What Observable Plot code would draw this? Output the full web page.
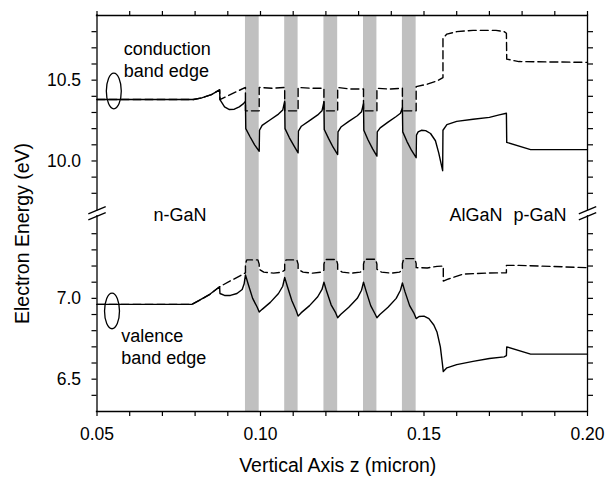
<!DOCTYPE html>
<html><head><meta charset="utf-8">
<script src="https://cdn.jsdelivr.net/npm/d3@7"></script>
<script src="https://cdn.jsdelivr.net/npm/@observablehq/plot@0.6"></script>
<style>body{margin:0;background:#fff;}</style>
</head><body><div id="chart"></div>
<script>
// ---------- data (z in micron, energy in eV) ----------
const wells = [[0.0954,0.0996],[0.1074,0.1115],[0.1194,0.1236],[0.1315,0.1356],[0.1434,0.1476]];

const cbSolid = [
 [0.0500,10.380],[0.0795,10.380],[0.0820,10.390],[0.0850,10.410],[0.0875,10.440],[0.0876,10.380],
 [0.0890,10.335],[0.0905,10.318],[0.0920,10.320],[0.0935,10.335],[0.0948,10.355],[0.0954,10.370],
 [0.0955,10.200],[0.0968,10.150],[0.0982,10.100],[0.0996,10.060],[0.0997,10.190],[0.1005,10.220],
 [0.1030,10.255],[0.1055,10.290],[0.1068,10.315],[0.1074,10.370],
 [0.1075,10.200],[0.1088,10.145],[0.1102,10.095],[0.1115,10.050],[0.1116,10.185],[0.1125,10.215],
 [0.1150,10.250],[0.1175,10.285],[0.1188,10.310],[0.1194,10.365],
 [0.1195,10.195],[0.1208,10.140],[0.1222,10.085],[0.1236,10.040],[0.1237,10.180],[0.1246,10.210],
 [0.1270,10.245],[0.1296,10.280],[0.1309,10.305],[0.1315,10.355],
 [0.1316,10.190],[0.1329,10.130],[0.1343,10.075],[0.1356,10.030],[0.1357,10.180],[0.1366,10.205],
 [0.1390,10.240],[0.1415,10.275],[0.1428,10.295],[0.1434,10.330],
 [0.1435,10.180],[0.1448,10.120],[0.1462,10.065],[0.1476,10.020],[0.1477,10.160],[0.1482,10.180],
 [0.1492,10.190],[0.1505,10.188],[0.1520,10.170],[0.1535,10.125],[0.1545,10.050],[0.1557,9.940],
 [0.1558,10.190],[0.1570,10.225],[0.1600,10.245],[0.1650,10.258],[0.1700,10.270],[0.1730,10.285],
 [0.1752,10.295],[0.1753,10.115],[0.1826,10.070],[0.2000,10.070]
];

const cbDashed = [
 [0.0500,10.380],[0.0795,10.380],[0.0820,10.390],[0.0850,10.410],[0.0875,10.440],[0.0876,10.380],
 [0.0954,10.455],[0.0954,10.310],[0.0996,10.310],[0.0996,10.455],[0.1035,10.450],[0.1074,10.455],
 [0.1074,10.310],[0.1115,10.310],[0.1115,10.455],[0.1155,10.450],[0.1194,10.450],
 [0.1194,10.310],[0.1236,10.310],[0.1236,10.455],[0.1275,10.445],[0.1315,10.445],
 [0.1315,10.310],[0.1356,10.310],[0.1356,10.450],[0.1395,10.445],[0.1434,10.450],
 [0.1434,10.310],[0.1476,10.310],[0.1476,10.460],[0.1510,10.475],[0.1540,10.495],[0.1558,10.515],
 [0.1558,10.760],[0.1570,10.785],[0.1600,10.800],[0.1650,10.808],[0.1720,10.808],[0.1745,10.800],
 [0.1752,10.790],[0.1753,10.630],[0.1790,10.615],[0.2000,10.610]
];

const vbSolid = [
 [0.0500,6.963],[0.0790,6.963],[0.0815,6.990],[0.0845,7.025],[0.0875,7.072],[0.0876,7.030],
 [0.0890,7.018],[0.0908,7.018],[0.0928,7.030],[0.0944,7.055],[0.0950,7.090],[0.0954,7.145],
 [0.0962,7.090],[0.0976,7.000],[0.0990,6.945],[0.0996,6.915],[0.1005,6.932],[0.1030,6.975],
 [0.1055,7.030],[0.1068,7.075],[0.1074,7.130],
 [0.1082,7.075],[0.1096,6.985],[0.1109,6.925],[0.1115,6.890],[0.1124,6.910],[0.1150,6.955],
 [0.1175,7.010],[0.1188,7.055],[0.1194,7.100],
 [0.1202,7.045],[0.1216,6.960],[0.1230,6.910],[0.1236,6.880],[0.1245,6.900],[0.1270,6.945],
 [0.1296,7.000],[0.1309,7.050],[0.1315,7.100],
 [0.1323,7.045],[0.1337,6.955],[0.1350,6.905],[0.1356,6.880],[0.1365,6.900],[0.1390,6.945],
 [0.1415,7.000],[0.1428,7.050],[0.1434,7.095],
 [0.1442,7.040],[0.1456,6.955],[0.1470,6.905],[0.1476,6.875],[0.1485,6.888],[0.1500,6.890],
 [0.1515,6.875],[0.1530,6.835],[0.1540,6.790],[0.1550,6.700],[0.1556,6.600],[0.1559,6.547],
 [0.1570,6.570],[0.1600,6.590],[0.1650,6.610],[0.1700,6.628],[0.1745,6.638],[0.1752,6.645],
 [0.1753,6.700],[0.1826,6.655],[0.2000,6.655]
];

const vbDashed = [
 [0.0500,6.963],[0.0790,6.963],[0.0815,6.990],[0.0845,7.025],[0.0875,7.072],[0.0954,7.158],
 [0.0954,7.212],[0.0958,7.238],[0.0992,7.238],[0.0996,7.212],[0.0996,7.180],[0.1010,7.162],
 [0.1040,7.156],[0.1065,7.162],[0.1074,7.175],
 [0.1074,7.212],[0.1078,7.238],[0.1111,7.238],[0.1115,7.212],[0.1115,7.180],[0.1130,7.162],
 [0.1160,7.156],[0.1185,7.162],[0.1194,7.175],
 [0.1194,7.212],[0.1198,7.240],[0.1232,7.240],[0.1236,7.212],[0.1236,7.180],[0.1250,7.162],
 [0.1280,7.156],[0.1305,7.162],[0.1315,7.175],
 [0.1315,7.212],[0.1319,7.242],[0.1352,7.242],[0.1356,7.212],[0.1356,7.180],[0.1370,7.162],
 [0.1400,7.156],[0.1425,7.162],[0.1434,7.178],
 [0.1434,7.215],[0.1438,7.246],[0.1472,7.246],[0.1476,7.215],[0.1476,7.190],[0.1510,7.188],
 [0.1540,7.198],[0.1559,7.200],[0.1559,7.107],[0.1575,7.120],[0.1620,7.150],[0.1700,7.157],
 [0.1752,7.158],[0.1752,7.204],[0.1790,7.204],[0.2000,7.190]
];

const xTicks = [0.05,0.06,0.07,0.08,0.09,0.10,0.11,0.12,0.13,0.14,0.15,0.16,0.17,0.18,0.19,0.20];
const xTickLabels = [0.05,0.10,0.15,0.20];
const yTicksLower = [6.4,6.5,6.6,6.7,6.8,6.9,7.0,7.1,7.2,7.3,7.4];
const yTicksUpper = [9.8,9.9,10.0,10.1,10.2,10.3,10.4,10.5,10.6,10.7,10.8];
const yTickLabels = [6.5,7.0,10.0,10.5];

const notes = [
 {text:"conduction", z:0.0582, e:10.655, upper:true},
 {text:"band edge",  z:0.0582, e:10.521, upper:true},
 {text:"valence",    z:0.0574, e:6.731,  upper:false},
 {text:"band edge",  z:0.0574, e:6.593,  upper:false},
 {text:"n-GaN",      z:0.0673, e:7.479,  upper:false},
 {text:"AlGaN",      z:0.1578, e:7.479,  upper:false},
 {text:"p-GaN",      z:0.1774, e:7.479,  upper:false}
];
const ellipses = [
 {z:0.05514, e:10.433, upper:true},
 {z:0.05459, e:6.922,  upper:false}
];

// ---------- broken-axis mapping ----------
const SHIFT = 2.15;            // upper panel energies are drawn shifted down by this
const Y_MIN = 6.3, Y_MAX = 10.9 - SHIFT;
const BREAK_HI = 7.545, BREAK_LO = 7.508;   // gap in the vertical axis lines
const SLASH_DZ = 0.00266, SLASH_DY = 0.0226;
const X_MIN = 0.05, X_MAX = 0.20;
const up = e => e - SHIFT;

const yTicksDisplay = [...yTicksLower, ...yTicksUpper.map(e => +up(e).toFixed(4))];
const yLabelMap = new Map(yTickLabels.map(e => [+(e > 8.5 ? up(e) : e).toFixed(4), e.toFixed(1)]));
const xLabelSet = new Set(xTickLabels.map(v => v.toFixed(2)));

const ellipseSymbol = {
  draw(ctx, size) {
    const ry = Math.sqrt(size / Math.PI), rx = ry * 0.42, k = 0.5523;
    ctx.moveTo(rx, 0);
    ctx.bezierCurveTo(rx, k*ry, k*rx, ry, 0, ry);
    ctx.bezierCurveTo(-k*rx, ry, -rx, k*ry, -rx, 0);
    ctx.bezierCurveTo(-rx, -k*ry, -k*rx, -ry, 0, -ry);
    ctx.bezierCurveTo(k*rx, -ry, rx, -k*ry, rx, 0);
    ctx.closePath();
  }
};

const slashes = [];
for (const xz of [X_MIN, X_MAX]) for (const yc of [BREAK_HI, BREAK_LO])
  slashes.push({x1: xz - SLASH_DZ, x2: xz + SLASH_DZ, y1: yc - SLASH_DY, y2: yc + SLASH_DY});

const FONT = "'Liberation Sans', Arial, Helvetica, sans-serif";
const LW = 1.4;

const plot = Plot.plot({
  width: 605, height: 480,
  marginTop: 15, marginBottom: 69, marginLeft: 96.5, marginRight: 18,
  style: {fontFamily: FONT, fontSize: "17.5px", color: "black", background: "white"},
  x: {domain: [X_MIN, X_MAX]},
  y: {domain: [Y_MIN, Y_MAX]},
  marks: [
    Plot.rect(wells, {x1: d => d[0], x2: d => d[1], fill: "#c0c0c0"}),
    Plot.line(cbSolid, {x: d => d[0], y: d => up(d[1]), stroke: "black", strokeWidth: LW}),
    Plot.line(cbDashed, {x: d => d[0], y: d => up(d[1]), stroke: "black", strokeWidth: LW, strokeDasharray: "8,4"}),
    Plot.line(vbSolid, {x: d => d[0], y: d => d[1], stroke: "black", strokeWidth: LW}),
    Plot.line(vbDashed, {x: d => d[0], y: d => d[1], stroke: "black", strokeWidth: LW, strokeDasharray: "8,4"}),
    // frame
    Plot.ruleY([Y_MIN, Y_MAX], {stroke: "black", strokeWidth: 1.3, strokeLinecap: "square"}),
    Plot.ruleX([X_MIN, X_MAX], {y1: Y_MIN, y2: BREAK_LO, stroke: "black", strokeWidth: 1.3, strokeLinecap: "square"}),
    Plot.ruleX([X_MIN, X_MAX], {y1: BREAK_HI, y2: Y_MAX, stroke: "black", strokeWidth: 1.3, strokeLinecap: "square"}),
    Plot.link(slashes, {x1: "x1", x2: "x2", y1: "y1", y2: "y2", stroke: "black", strokeWidth: 1.3}),
    // axes
    Plot.axisX({anchor: "bottom", ticks: xTicks, tickSize: 5, tickPadding: 11, strokeWidth: 1.2, label: null,
      tickFormat: d => xLabelSet.has(d.toFixed(2)) ? d.toFixed(2) : "", fontSize: 17.5}),
    Plot.axisX({anchor: "top", ticks: xTicks, tickSize: 5, strokeWidth: 1.2, label: null, tickFormat: () => ""}),
    Plot.axisY({anchor: "left", ticks: yTicksDisplay, tickSize: 5, tickPadding: 11, strokeWidth: 1.2, label: null,
      tickFormat: d => yLabelMap.get(+d.toFixed(4)) ?? "", fontSize: 17.5}),
    Plot.axisY({anchor: "right", ticks: yTicksDisplay, tickSize: 5, strokeWidth: 1.2, label: null, tickFormat: () => ""}),
    // annotations
    Plot.text(notes, {x: "z", y: d => d.upper ? up(d.e) : d.e, text: "text", textAnchor: "start",
      lineAnchor: "bottom", fontSize: 18, fill: "black"}),
    Plot.dot(ellipses, {x: "z", y: d => d.upper ? up(d.e) : d.e, r: 17.8, symbol: ellipseSymbol,
      stroke: "black", fill: "none", strokeWidth: 1.3}),
    // axis titles
    Plot.text(["Vertical Axis z (micron)"], {frameAnchor: "bottom", dx: -4.5, dy: 60.7, lineAnchor: "bottom",
      textAnchor: "middle", fontSize: 19.5, fill: "black"}),
    Plot.text(["Electron Energy (eV)"], {frameAnchor: "left", dx: -68.5, dy: 20, rotate: -90, lineAnchor: "bottom",
      textAnchor: "middle", fontSize: 19.5, fill: "black"})
  ]
});
document.getElementById("chart").appendChild(plot);
</script></body></html>
